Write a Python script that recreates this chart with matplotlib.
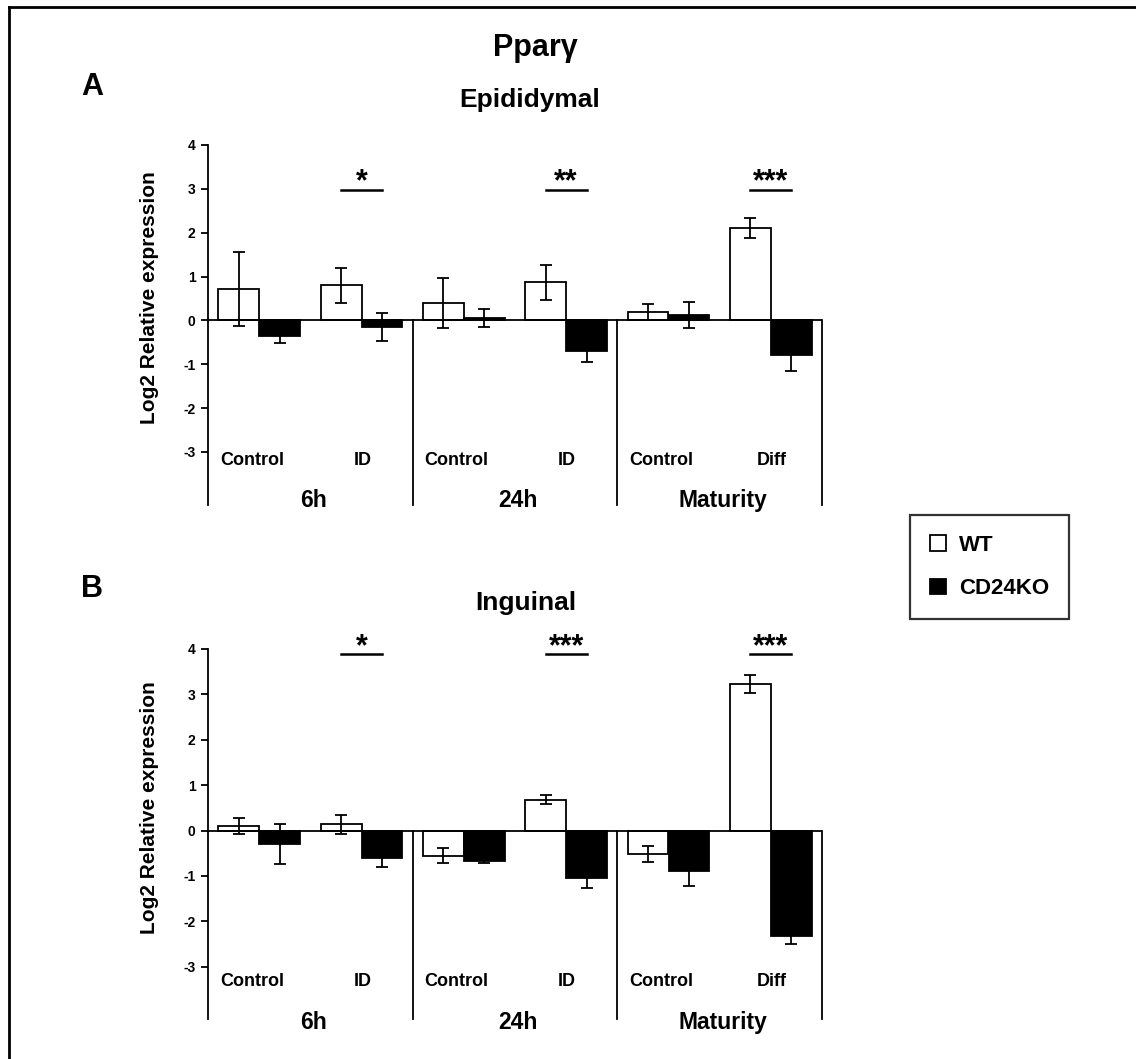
import matplotlib
matplotlib.use("Agg")
import matplotlib.pyplot as plt
import numpy as np
from matplotlib.lines import Line2D
from matplotlib.patches import Patch

plt.rcParams['font.family'] = ['Liberation Sans', 'DejaVu Sans']
plt.rcParams['font.weight'] = 'bold'
plt.rcParams['axes.unicode_minus'] = False

categories = ["Control", "ID", "Control", "ID", "Control", "Diff"]
groups = ["6h", "24h", "Maturity"]

# Epididymal
epi_wt = [0.72, 0.80, 0.40, 0.87, 0.20, 2.10]
epi_wt_err = [0.85, 0.40, 0.57, 0.40, 0.18, 0.23]
epi_ko = [-0.35, -0.16, 0.05, -0.70, 0.13, -0.80]
epi_ko_err = [0.17, 0.32, 0.20, 0.25, 0.30, 0.35]
epi_sig = ["", "*", "", "**", "", "***"]

# Inguinal
ing_wt = [0.10, 0.14, -0.55, 0.68, -0.52, 3.22]
ing_wt_err = [0.18, 0.21, 0.17, 0.10, 0.17, 0.20]
ing_ko = [-0.30, -0.61, -0.67, -1.05, -0.88, -2.32]
ing_ko_err = [0.44, 0.20, 0.05, 0.22, 0.35, 0.18]
ing_sig = ["", "*", "", "***", "", "***"]

W, H = 1136, 1059
fig = plt.figure(figsize=(W / 100, H / 100), dpi=100)


def fx(px):
    return px / W


def fy(py):
    return 1 - py / H


def panel(rect, wt, wte, ko, koe, sig, ybottom, sigy, catoff, grpoff, ylab_y):
    ax = fig.add_axes(rect)
    x = np.arange(len(categories))
    bw = 0.4
    ekw = dict(ecolor='black', elinewidth=1.3, capsize=4, capthick=1.3)
    ax.bar(x - bw / 2, wt, bw, color='white', edgecolor='black', linewidth=1.3,
           yerr=wte, error_kw=ekw, zorder=2)
    ax.bar(x + bw / 2, ko, bw, color='black', edgecolor='black', linewidth=1.3,
           yerr=koe, error_kw=ekw, zorder=2)
    ax.set_xlim(-0.5, 5.5)
    ax.set_ylim(ybottom, 4)
    ax.axhline(0, color='black', linewidth=1.3, zorder=3)
    for xv in [1.5, 3.5, 5.5]:
        ax.plot([xv, xv], [ybottom, 0], color='black', linewidth=1.3, clip_on=False, zorder=3)
    for s in ['top', 'right', 'bottom']:
        ax.spines[s].set_visible(False)
    ax.spines['left'].set_linewidth(1.3)
    ax.set_xticks([])
    ax.set_yticks([4, 3, 2, 1, 0, -1, -2, -3])
    ax.tick_params(axis='y', length=5, width=1.3, labelsize=10, pad=4)
    for lab in ax.get_yticklabels():
        lab.set_fontweight('bold')
    ax.set_ylabel("Log2 Relative expression", fontsize=15, fontweight='bold')
    ax.yaxis.set_label_coords(-0.080, ylab_y)
    for i, c in enumerate(categories):
        ax.text(i - 0.07 if c == "Control" else i + 0.01, catoff, c,
                ha='center', va='center', fontsize=13, fontweight='bold')
    for j, g in enumerate(groups):
        ax.text(2 * j + 0.53, ybottom - grpoff, g, ha='center', va='baseline',
                fontsize=16.5, fontweight='bold', clip_on=False)
    for i, s in enumerate(sig):
        if s:
            ax.plot([i - bw / 2, i + bw / 2], [sigy, sigy], color='black', linewidth=1.8)
            ax.text(i, sigy - 0.02, s, ha='center', va='baseline', fontsize=22, fontweight='bold')
    return ax


top_rect = [fx(208), fy(505), fx(822) - fx(208), fy(145) - fy(505)]
bot_rect = [fx(208), fy(1019), fx(822) - fx(208), fy(649) - fy(1019)]
panel(top_rect, epi_wt, epi_wt_err, epi_ko, epi_ko_err, epi_sig, -4.21, 2.98, -3.2, 0.05, 0.575)
panel(bot_rect, ing_wt, ing_wt_err, ing_ko, ing_ko_err, ing_sig, -4.15, 3.89, -3.33, 0.22, 0.57)

fig.text(fx(535), fy(56), "Ppar\u03b3", ha='center', va='baseline', fontsize=22, fontweight='bold')
fig.text(fx(530), fy(107), "Epididymal", ha='center', va='baseline', fontsize=19, fontweight='bold')
fig.text(fx(526), fy(610), "Inguinal", ha='center', va='baseline', fontsize=19, fontweight='bold')
fig.text(fx(92), fy(95), "A", ha='center', va='baseline', fontsize=22, fontweight='bold')
fig.text(fx(92), fy(597), "B", ha='center', va='baseline', fontsize=22, fontweight='bold')

handles = [Patch(facecolor='white', edgecolor='black', linewidth=1.3, label='WT'),
           Patch(facecolor='black', edgecolor='black', linewidth=1.3, label='CD24KO')]
leg = fig.legend(handles=handles, loc='upper left', bbox_to_anchor=(fx(910), fy(515)),
                 frameon=True, fancybox=False, edgecolor='black', fontsize=16,
                 handlelength=0.7, handleheight=0.7, handletextpad=0.6,
                 borderpad=0.9, labelspacing=1.0, borderaxespad=0)
leg.get_frame().set_linewidth(1.6)
for t in leg.get_texts():
    t.set_fontweight('bold')

# outer border (left and top)
fig.add_artist(Line2D([fx(9), fx(9)], [0, fy(7)], color='black', linewidth=2))
fig.add_artist(Line2D([fx(9), 1], [fy(7), fy(7)], color='black', linewidth=2))

fig.savefig("out.png", dpi=100)
